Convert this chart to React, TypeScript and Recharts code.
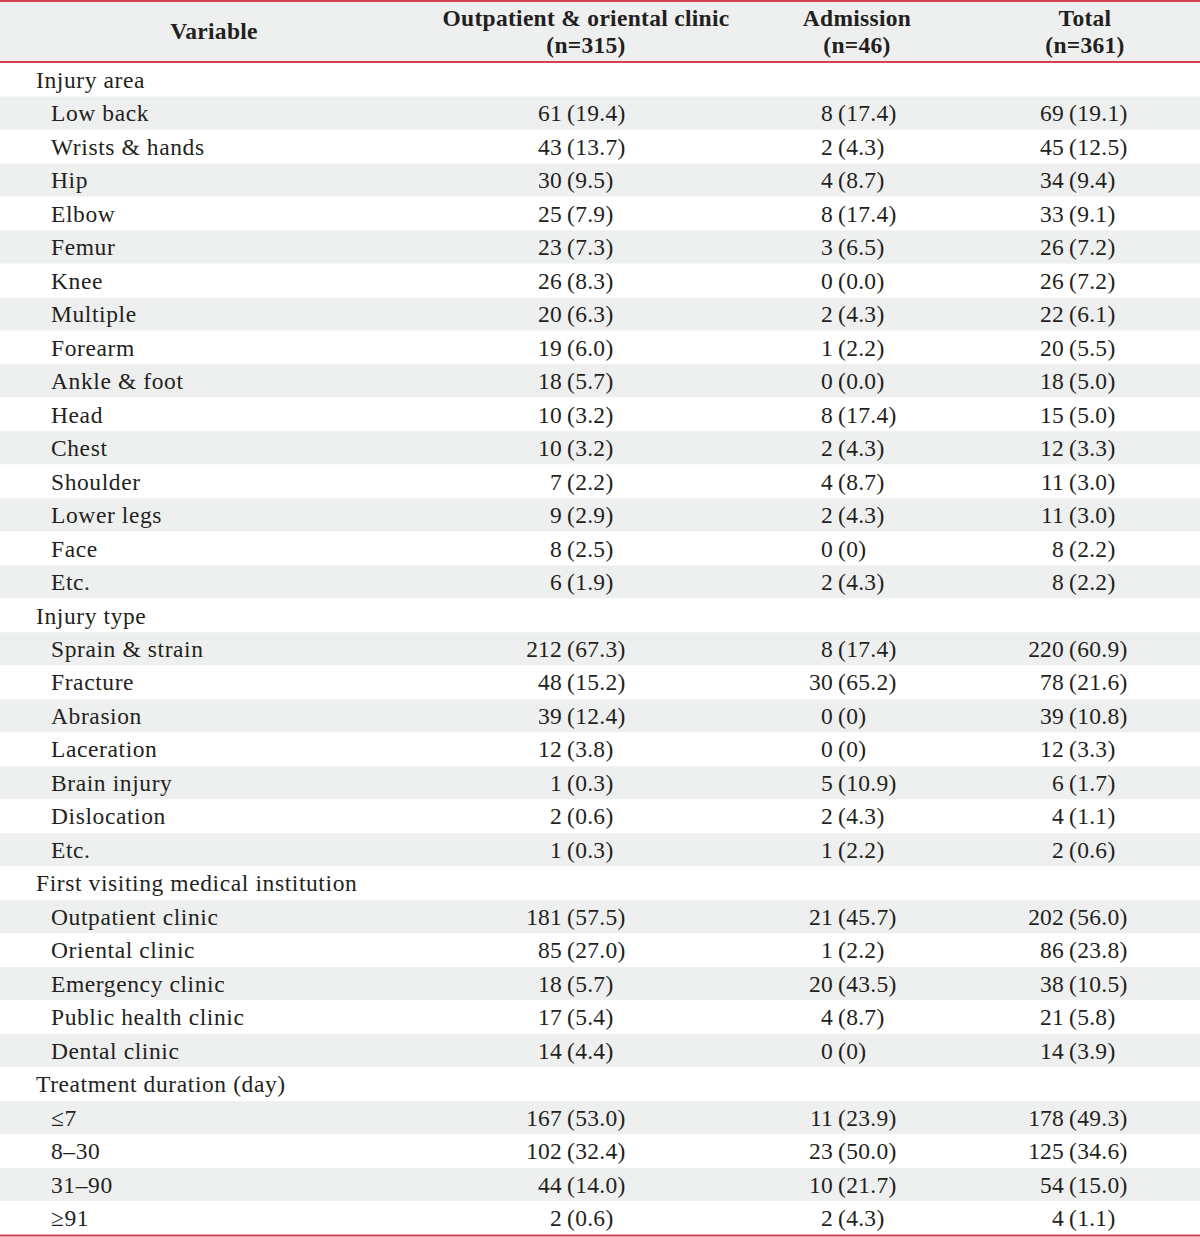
import React from "react";
import { BarChart, Bar, XAxis, YAxis } from "recharts";

// ---- Table content ----
const headerVariable = "Variable";
const headerColumns = [
  ["Outpatient & oriental clinic", "(n=315)"],
  ["Admission", "(n=46)"],
  ["Total", "(n=361)"],
];

const sectionTitles = [
  "Injury area",
  "Injury type",
  "First visiting medical institution",
  "Treatment duration (day)",
];

const injuryAreaLabels = ["Low back", "Wrists & hands", "Hip", "Elbow", "Femur", "Knee", "Multiple", "Forearm", "Ankle & foot", "Head", "Chest", "Shoulder", "Lower legs", "Face", "Etc."];
const injuryAreaOutpatient = ["61 (19.4)", "43 (13.7)", "30 (9.5)", "25 (7.9)", "23 (7.3)", "26 (8.3)", "20 (6.3)", "19 (6.0)", "18 (5.7)", "10 (3.2)", "10 (3.2)", "7 (2.2)", "9 (2.9)", "8 (2.5)", "6 (1.9)"];
const injuryAreaAdmission = ["8 (17.4)", "2 (4.3)", "4 (8.7)", "8 (17.4)", "3 (6.5)", "0 (0.0)", "2 (4.3)", "1 (2.2)", "0 (0.0)", "8 (17.4)", "2 (4.3)", "4 (8.7)", "2 (4.3)", "0 (0)", "2 (4.3)"];
const injuryAreaTotal = ["69 (19.1)", "45 (12.5)", "34 (9.4)", "33 (9.1)", "26 (7.2)", "26 (7.2)", "22 (6.1)", "20 (5.5)", "18 (5.0)", "15 (5.0)", "12 (3.3)", "11 (3.0)", "11 (3.0)", "8 (2.2)", "8 (2.2)"];

const injuryTypeLabels = ["Sprain & strain", "Fracture", "Abrasion", "Laceration", "Brain injury", "Dislocation", "Etc."];
const injuryTypeOutpatient = ["212 (67.3)", "48 (15.2)", "39 (12.4)", "12 (3.8)", "1 (0.3)", "2 (0.6)", "1 (0.3)"];
const injuryTypeAdmission = ["8 (17.4)", "30 (65.2)", "0 (0)", "0 (0)", "5 (10.9)", "2 (4.3)", "1 (2.2)"];
const injuryTypeTotal = ["220 (60.9)", "78 (21.6)", "39 (10.8)", "12 (3.3)", "6 (1.7)", "4 (1.1)", "2 (0.6)"];

const institutionLabels = ["Outpatient clinic", "Oriental clinic", "Emergency clinic", "Public health clinic", "Dental clinic"];
const institutionOutpatient = ["181 (57.5)", "85 (27.0)", "18 (5.7)", "17 (5.4)", "14 (4.4)"];
const institutionAdmission = ["21 (45.7)", "1 (2.2)", "20 (43.5)", "4 (8.7)", "0 (0)"];
const institutionTotal = ["202 (56.0)", "86 (23.8)", "38 (10.5)", "21 (5.8)", "14 (3.9)"];

const durationLabels = ["≤7", "8–30", "31–90", "≥91"];
const durationOutpatient = ["167 (53.0)", "102 (32.4)", "44 (14.0)", "2 (0.6)"];
const durationAdmission = ["11 (23.9)", "23 (50.0)", "10 (21.7)", "2 (4.3)"];
const durationTotal = ["178 (49.3)", "125 (34.6)", "54 (15.0)", "4 (1.1)"];

const sectionLabels = [injuryAreaLabels, injuryTypeLabels, institutionLabels, durationLabels];
const sectionOutpatient = [injuryAreaOutpatient, injuryTypeOutpatient, institutionOutpatient, durationOutpatient];
const sectionAdmission = [injuryAreaAdmission, injuryTypeAdmission, institutionAdmission, durationAdmission];
const sectionTotal = [injuryAreaTotal, injuryTypeTotal, institutionTotal, durationTotal];

type Row = { key: string; label: string; section: boolean; cells: string[]; stripe: number };

const rows: Row[] = [];
sectionTitles.forEach((title, s) => {
  rows.push({ key: "r" + rows.length, label: title, section: true, cells: [], stripe: 0 });
  sectionLabels[s].forEach((lab, i) => {
    rows.push({
      key: "r" + rows.length,
      label: lab,
      section: false,
      cells: [sectionOutpatient[s][i], sectionAdmission[s][i], sectionTotal[s][i]],
      stripe: 0,
    });
  });
});
rows.forEach((r, i) => (r.stripe = i % 2 === 1 ? 1 : 0));
const rowByKey: Record<string, Row> = {};
rows.forEach((r) => (rowByKey[r.key] = r));

// ---- Styling ----
const W = 1200;
const H = 1237;
const HEADER_H = 63;
const FONT = "'Liberation Serif', 'Times New Roman', serif";
const FS = 23.5;
const GRAY = "#eeefef";
const RED = "#d2434f";
const TEXT = "#231f20";
// column alignment: [count right edge, percentage left edge]
const COLS = [
  [562, 567],
  [833, 838],
  [1064, 1069],
];
const HEADER_CENTERS = [586, 857, 1085];

const renderRowTick = (props: any) => {
  const { y, payload, index } = props;
  const row = rowByKey[payload?.value] ?? rows[index];
  if (!row) return <g />;
  const dy = 8;
  return (
    <g>
      <text x={row.section ? 36 : 51} y={y + dy} fontFamily={FONT} fontSize={FS} letterSpacing={0.6} fill={TEXT}>
        {row.label}
      </text>
      {row.cells.map((c, ci) => {
        const idx = c.indexOf(" (");
        const count = c.slice(0, idx);
        const pct = c.slice(idx + 1);
        return (
          <g key={ci}>
            <text x={COLS[ci][0]} y={y + dy} textAnchor="end" fontFamily={FONT} fontSize={FS} letterSpacing={0.2} fill={TEXT}>
              {count}
            </text>
            <text x={COLS[ci][1]} y={y + dy} textAnchor="start" fontFamily={FONT} fontSize={FS} letterSpacing={0.3} fill={TEXT}>
              {pct}
            </text>
          </g>
        );
      })}
    </g>
  );
};

export default function App() {
  return (
    <div style={{ position: "absolute", left: 0, top: 0, width: W, height: H, background: "#fff" }}>
      <BarChart
        width={W}
        height={H}
        data={rows}
        layout="vertical"
        margin={{ top: HEADER_H, right: 0, bottom: 2, left: -1 }}
        barCategoryGap={0}
        barGap={0}
      >
        <XAxis type="number" domain={[0, 1]} hide />
        <Bar dataKey="stripe" fill={GRAY} isAnimationActive={false} />
        <YAxis
          type="category"
          dataKey="key"
          width={1}
          axisLine={false}
          tickLine={false}
          interval={0}
          tick={renderRowTick}
        />
      </BarChart>
      <svg width={W} height={H} style={{ position: "absolute", left: 0, top: 0, pointerEvents: "none" }}>
        <rect x={0} y={0} width={W} height={HEADER_H - 1} fill={GRAY} />
        <line x1={0} x2={W} y1={1} y2={1} stroke={RED} strokeWidth={2} />
        <line x1={0} x2={W} y1={62} y2={62} stroke={RED} strokeWidth={2} />
        <line x1={0} x2={W} y1={1235.5} y2={1235.5} stroke={RED} strokeWidth={2} />
        <text x={214} y={39} textAnchor="middle" fontFamily={FONT} fontSize={FS} fontWeight="bold" letterSpacing={0.3} fill={TEXT}>
          {headerVariable}
        </text>
        {headerColumns.map((lines, i) => (
          <g key={i}>
            <text x={HEADER_CENTERS[i]} y={26} textAnchor="middle" fontFamily={FONT} fontSize={FS} fontWeight="bold" letterSpacing={0.3} fill={TEXT}>
              {lines[0]}
            </text>
            <text x={HEADER_CENTERS[i]} y={53} textAnchor="middle" fontFamily={FONT} fontSize={FS} fontWeight="bold" letterSpacing={0.3} fill={TEXT}>
              {lines[1]}
            </text>
          </g>
        ))}
      </svg>
    </div>
  );
}
